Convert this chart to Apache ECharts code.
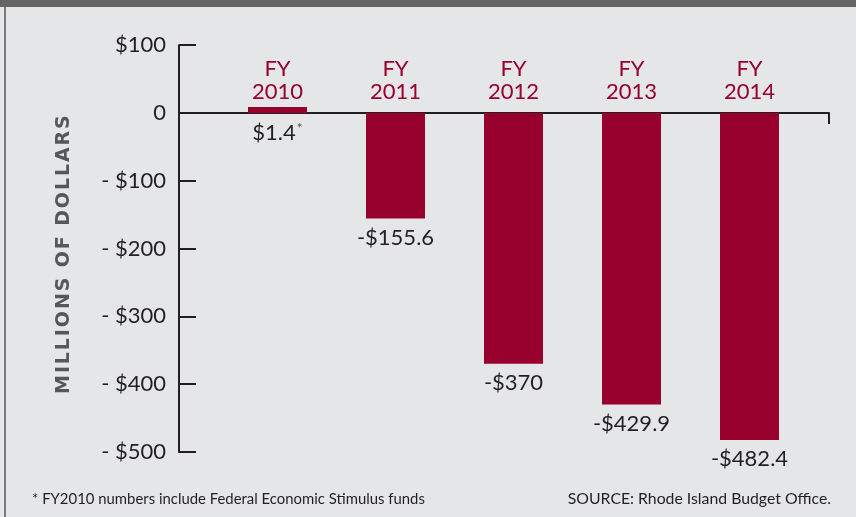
<!DOCTYPE html>
<html>
<head>
<meta charset="utf-8">
<script src="https://cdn.jsdelivr.net/npm/echarts@6/dist/echarts.min.js"></script>
<style>
  html, body { margin: 0; padding: 0; background: #e5e6e8; }
  #chart { width: 856px; height: 517px; }
</style>
</head>
<body>
<div id="chart"></div>
<script>
// Fiscal years and the budget surplus / deficit for each, in millions of dollars
var years = ['FY\n2010', 'FY\n2011', 'FY\n2012', 'FY\n2013', 'FY\n2014'];
var balances = [1.4, -155.6, -370, -429.9, -482.4];
// Value axis range and step
var axisMin = -500, axisMax = 100, axisStep = 100;
var axisTitle = 'MILLIONS OF DOLLARS';
var footnote = '* FY2010 numbers include Federal Economic Stimulus funds';
var source = 'SOURCE: Rhode Island Budget Office.';

var FONT = 'Lato, "Open Sans", sans-serif';
var CRIMSON = '#98002e';
var INK = '#231f20';

// plot area shared by the bar grid and the axis frame
var PLOT_TOP = 45.2, PLOT_BOTTOM = 65;
var PLOT_HEIGHT = 517 - PLOT_TOP - PLOT_BOTTOM;
// distance from the top of the plot down to the zero line
var zeroDrop = PLOT_HEIGHT * axisMax / (axisMax - axisMin);

// tracked-out caps for the axis title (hair space between letters)
function tracked(s) { return s.split('').join('\u200A'); }

function moneyLabel(v) {
  if (v >= 0) return '$' + v + '{sup|*}';
  return '-$' + Math.abs(v);
}

function tickLabel(v) {
  if (v === 0) return '0';
  if (v > 0) return '$' + v;
  return '- $' + Math.abs(v);
}

var chart = echarts.init(document.getElementById('chart'), null, { renderer: 'canvas' });

var option = {
  backgroundColor: '#e5e6e8',
  animation: false,
  textStyle: { fontFamily: FONT },
  title: [
    {
      text: footnote, left: 32, bottom: 10, padding: 0,
      textStyle: { fontFamily: FONT, fontSize: 14.9, fontWeight: 'normal', color: INK }
    },
    {
      text: source, right: 25, bottom: 10, padding: 0,
      textStyle: { fontFamily: FONT, fontSize: 15.8, fontWeight: 'normal', color: INK }
    }
  ],
  graphic: [
    { type: 'rect', left: 0, top: 0, shape: { width: 856, height: 7 }, style: { fill: '#646464' }, silent: true },
    { type: 'rect', left: 4, top: 7, shape: { width: 2, height: 510 }, style: { fill: '#7a7a7a' }, silent: true }
  ],
  grid: [
    // bars
    { left: 218.5, right: 47.5, top: PLOT_TOP, bottom: PLOT_BOTTOM, containLabel: false },
    // axis frame
    { left: 179, right: 27, top: PLOT_TOP, bottom: PLOT_BOTTOM, containLabel: false }
  ],
  xAxis: [
    {
      // year labels sit just above the zero line
      type: 'category', gridIndex: 0, data: years,
      position: 'top', offset: -zeroDrop,
      axisLine: { show: false, onZero: false },
      axisTick: { show: false },
      axisLabel: {
        margin: 10, color: CRIMSON,
        fontFamily: FONT, fontSize: 22, lineHeight: 23
      },
      splitLine: { show: false }
    },
    {
      type: 'value', gridIndex: 1, min: 0, max: 1, interval: 1,
      axisLine: { show: true, onZero: true, lineStyle: { color: INK, width: 2 } },
      axisTick: { show: true, length: 11, lineStyle: { color: INK, width: 2 } },
      axisLabel: { show: false },
      splitLine: { show: false }
    }
  ],
  yAxis: [
    {
      type: 'value', gridIndex: 0, min: axisMin, max: axisMax, interval: axisStep,
      show: false, splitLine: { show: false }
    },
    {
      type: 'value', gridIndex: 1, min: axisMin, max: axisMax, interval: axisStep,
      axisLine: { show: true, lineStyle: { color: INK, width: 2 } },
      axisTick: { show: true, inside: true, length: 17, lineStyle: { color: INK, width: 2 } },
      axisLabel: {
        margin: 13, color: INK, fontFamily: FONT, fontSize: 22,
        formatter: tickLabel
      },
      splitLine: { show: false },
      name: tracked(axisTitle),
      nameLocation: 'middle',
      nameGap: 105,
      nameTextStyle: {
        fontFamily: '"DejaVu Sans", sans-serif', fontSize: 19, fontWeight: 'bold', color: '#555759',
        padding: [0, 12, 0, 0]
      }
    }
  ],
  series: [
    {
      type: 'bar',
      xAxisIndex: 0, yAxisIndex: 0,
      data: balances,
      barWidth: 59,
      barMinHeight: 6,
      itemStyle: { color: CRIMSON },
      label: {
        show: true, position: 'bottom', distance: 8,
        color: INK, fontFamily: FONT, fontSize: 22,
        formatter: function (p) { return moneyLabel(p.value); },
        rich: {
          sup: { fontSize: 14, verticalAlign: 'top', color: '#555', padding: [0, 0, 9, 1] }
        }
      }
    }
  ]
};

chart.setOption(option);
</script>
</body>
</html>
